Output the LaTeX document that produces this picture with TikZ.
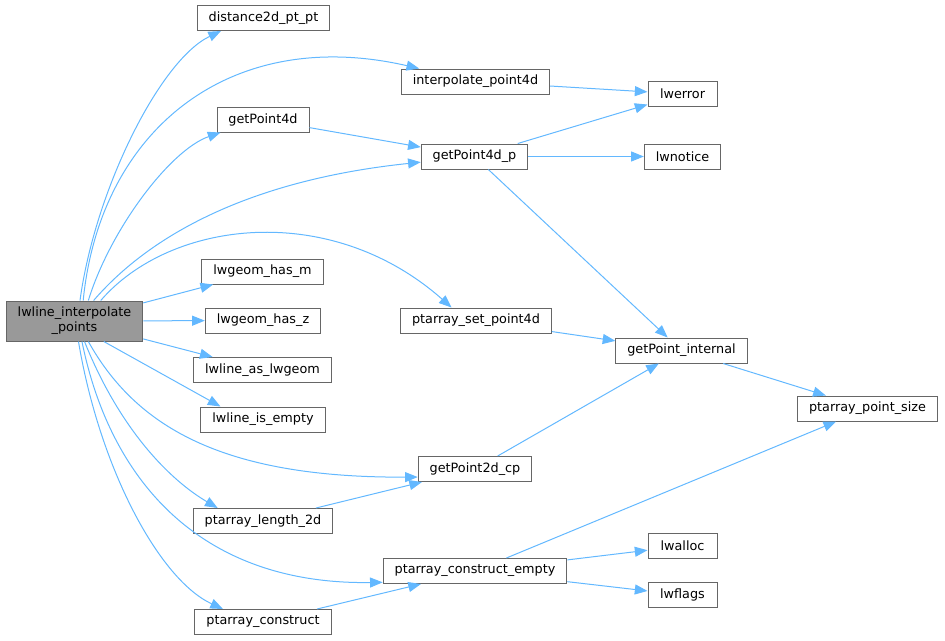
\documentclass[tikz,border=0pt]{standalone}
\usepackage{fontspec}
\setmainfont{DejaVu Sans}
\usepackage{xcolor}
\usetikzlibrary{arrows.meta}
\definecolor{edgeblue}{HTML}{63B8FF}
\definecolor{boxgray}{HTML}{666666}
\definecolor{maingray}{HTML}{999999}

\begin{document}
\begin{tikzpicture}[x=0.75pt, y=-0.75pt,
	fn/.style={draw=boxgray, fill=white, line width=0.75pt, minimum height=18.75pt, inner xsep=8.6pt, inner ysep=0pt, font=\fontsize{9.6}{11.25}\selectfont},
	call/.style={draw=edgeblue, line width=0.75pt, -{Triangle[length=9.5pt, width=7.5pt]}}]

	\useasboundingbox (0,0) rectangle (945,640);

	\node[fn, fill=maingray, minimum height=30pt, align=center] (main) at (74.5,321) {lwline\_interpolate\\\_points};

	\node[fn] (dist) at (263.5,18) {distance2d\_pt\_pt};
	\node[fn] (gp4d) at (263,119.5) {getPoint4d};
	\node[fn] (hasm) at (262.5,271.5) {lwgeom\_has\_m};
	\node[fn] (hasz) at (263,320.5) {lwgeom\_has\_z};
	\node[fn] (aslw) at (262.5,370) {lwline\_as\_lwgeom};
	\node[fn] (isempty) at (263,419.5) {lwline\_is\_empty};
	\node[fn] (len2d) at (263,521) {ptarray\_length\_2d};
	\node[fn] (construct) at (263,622) {ptarray\_construct};

	\node[fn] (interp) at (475.5,81.5) {interpolate\_point4d};
	\node[fn] (gp4dp) at (474.5,156.5) {getPoint4d\_p};
	\node[fn] (setp) at (476,320.5) {ptarray\_set\_point4d};
	\node[fn] (gp2d) at (475,469) {getPoint2d\_cp};
	\node[fn] (cempty) at (475,571) {ptarray\_construct\_empty};

	\node[fn, minimum width=51.75pt] (lwerror) at (682.5,94) {lwerror};
	\node[fn] (lwnotice) at (682.5,156.5) {lwnotice};
	\node[fn] (gpint) at (681.5,350.5) {getPoint\_internal};
	\node[fn, minimum width=51.75pt] (lwalloc) at (682.5,546) {lwalloc};
	\node[fn, minimum width=51.75pt] (lwflags) at (682.5,595) {lwflags};

	\node[fn] (ptsize) at (867.5,408.5) {ptarray\_point\_size};

	\draw[call] (main.75) .. controls (95,190) and (160,60) .. (dist.197);
	\draw[call] (main.67) .. controls (100,130) and (230,25) .. (interp.167);
	\draw[call] (main.56) .. controls (110,230) and (170,150) .. (gp4d.197);
	\draw[call] (main.47) .. controls (150,235) and (250,180) .. (gp4dp.186);
	\draw[call] (main.38) .. controls (170,220) and (330,200) .. (setp.152);
	\draw[call] (main) -- (hasm);
	\draw[call] (main) -- (hasz);
	\draw[call] (main) -- (aslw);
	\draw[call] (main.-35) -- (isempty.163);
	\draw[call] (main.-56) .. controls (135,425) and (220,478) .. (gp2d.188);
	\draw[call] (main.-64) .. controls (120,430) and (170,480) .. (len2d.164);
	\draw[call] (main.-70) .. controls (110,480) and (200,585) .. (cempty.187);
	\draw[call] (main.-79) .. controls (100,470) and (160,580) .. (construct.162);

	\draw[call] (interp) -- (lwerror);
	\draw[call] (gp4d) -- (gp4dp);
	\draw[call] (gp4dp) -- (lwerror);
	\draw[call] (gp4dp) -- (lwnotice);
	\draw[call] (gp4dp) -- (gpint);
	\draw[call] (setp) -- (gpint);
	\draw[call] (gpint) -- (ptsize);
	\draw[call] (gp2d) -- (gpint);
	\draw[call] (len2d) -- (gp2d);
	\draw[call] (cempty) -- (ptsize);
	\draw[call] (cempty) -- (lwalloc);
	\draw[call] (cempty) -- (lwflags);
	\draw[call] (construct) -- (cempty);

\end{tikzpicture}
\end{document}
